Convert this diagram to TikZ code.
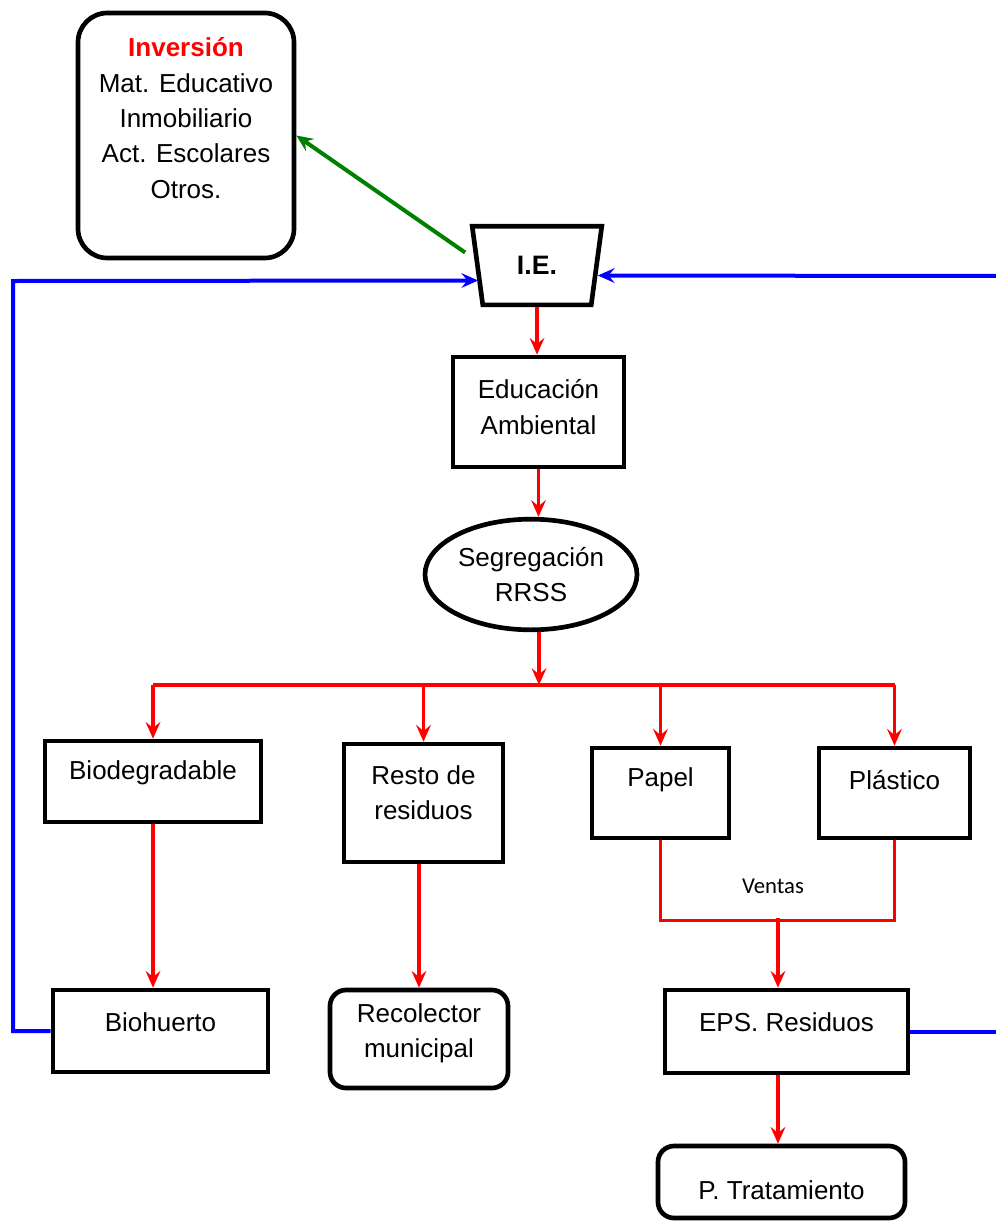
\documentclass[tikz,border=0pt]{standalone}
\usepackage{fontspec}
\setmainfont{Liberation Sans}
\newfontfamily\ventasfont{Carlito}
\usetikzlibrary{arrows.meta,shapes.geometric,fit,calc}
\colorlet{flowcol}{red}
\colorlet{titlecol}{red}
\colorlet{loopcol}{blue}
\colorlet{investcol}{green!50!black}
\tikzset{
  box/.style={draw,line width=3.5pt,inner sep=0pt},
  roundbox/.style={box,rounded corners=#1},
  roundbox/.default=12pt,
  txt/.style={align=center,inner sep=0pt,font=\fontsize{19.5}{26.5}\selectfont},
  tip/.style={-{Stealth[length=12.5pt,width=11pt,inset=4.5pt]}},
  flowline/.style={line width=2.7pt,flowcol},
  flow/.style={flowline,tip},
  loop/.style={line width=3pt,loopcol},
  invest/.style={line width=3pt,investcol,tip}
}

\begin{document}
\begin{tikzpicture}[x=0.75pt,y=-0.75pt]
  \useasboundingbox (0,0) rectangle (996,1221);

  % TOP
  \node[roundbox=22pt,fit={(78,13) (294,258)}] (inv) {};
  \node[txt] (invT) at (186,118)
    {\textcolor{titlecol}{\bfseries Inversión}\\Mat. Educativo\\Inmobiliario\\Act. Escolares\\Otros.};
  \node[draw,line width=3.5pt,trapezium,shape border rotate=180,
        trapezium left angle=78,trapezium right angle=78,trapezium stretches=true,
        minimum width=97.5pt,minimum height=59pt,inner sep=0pt,
        font=\bfseries\fontsize{20}{22}\selectfont] (ie) at (537,265.5) {I.E.};
  \node[box,fit={(453,357) (624,467)}] (edu) {};
  \node[txt] (eduT) at (538.5,407) {Educación\\Ambiental};
  \node[draw,line width=3.5pt,ellipse,minimum width=159pt,minimum height=83pt,
        inner sep=0pt,txt] (seg) at (531,574.5) {Segregación\\RRSS};

  % SEPARATED WASTE
  \node[box,fit={(45,741) (261,822)}] (bio) {};
  \node[txt] (bioT) at (153,773) {Biodegradable};
  \node[box,fit={(344,744) (503,862)}] (resto) {};
  \node[txt] (restoT) at (423.5,792.5) {Resto de\\residuos};
  \node[box,fit={(592,748) (729,838)}] (papel) {};
  \node[txt] (papelT) at (660.5,780) {Papel};
  \node[box,fit={(819,748) (970,838)}] (plas) {};
  \node[txt] (plasT) at (894.5,780) {Plástico};

  % DESTINATIONS
  \node[box,fit={(53,990) (268,1072)}] (bioh) {};
  \node[txt] (biohT) at (160.5,1022) {Biohuerto};
  \node[roundbox,fit={(330,990) (508,1088)}] (recol) {};
  \node[txt] (recolT) at (419,1033.5) {Recolector\\municipal};
  \node[box,fit={(665,990) (908,1073)}] (eps) {};
  \node[txt] (epsT) at (786.5,1022) {EPS. Residuos};
  \node[roundbox,fit={(658,1146) (905,1218)}] (trat) {};
  \node[txt] (tratT) at (781.5,1190) {P. Tratamiento};
  \node[inner sep=0pt,font=\ventasfont\fontsize{17}{20}\selectfont] (vtsT) at (773,886) {Ventas};

  % FLOW
  \draw[flow] (ie.south) -- (ie.south |- edu.north);
  \draw[flow] (edu.south) -- (edu.south |- seg.north);
  \coordinate (bus) at (539,685);
  \draw[flow] (bus |- seg.south) -- (bus);
  \draw[flowline] (bio.north |- bus) -- (plas.north |- bus);
  \foreach \b in {bio,resto,papel,plas}{
    \draw[flow] (\b.north |- bus) -- (\b.north);
  }
  \draw[flow] (bio.south) -- (bio.south |- bioh.north);
  \draw[flow] (recol.north |- resto.south) -- (recol.north);
  \draw[flowline] (papel.south) -- ++(0,80) -| (plas.south);
  \coordinate (vts) at (778,918);
  \draw[flow] (vts) -- (vts |- eps.north);
  \draw[flow] (eps.south -| vts) -- (trat.north -| vts);

  % LOOPS
  \coordinate (lpL) at (13,281);
  \coordinate (lpR) at (1000,276);
  \coordinate (lpRB) at (1000,1031.5);
  \draw[loop,tip] (bioh.west) -| (lpL) -- ($(ie.west)+(3,15)$);
  \draw[loop] (eps.east) -- (lpRB);
  \draw[loop,tip] (lpR) -- ($(ie.east)+(-1,10)$);
  \draw[invest] ($(ie.west)+(-10,-13)$) -- (inv.east);
\end{tikzpicture}
\end{document}
